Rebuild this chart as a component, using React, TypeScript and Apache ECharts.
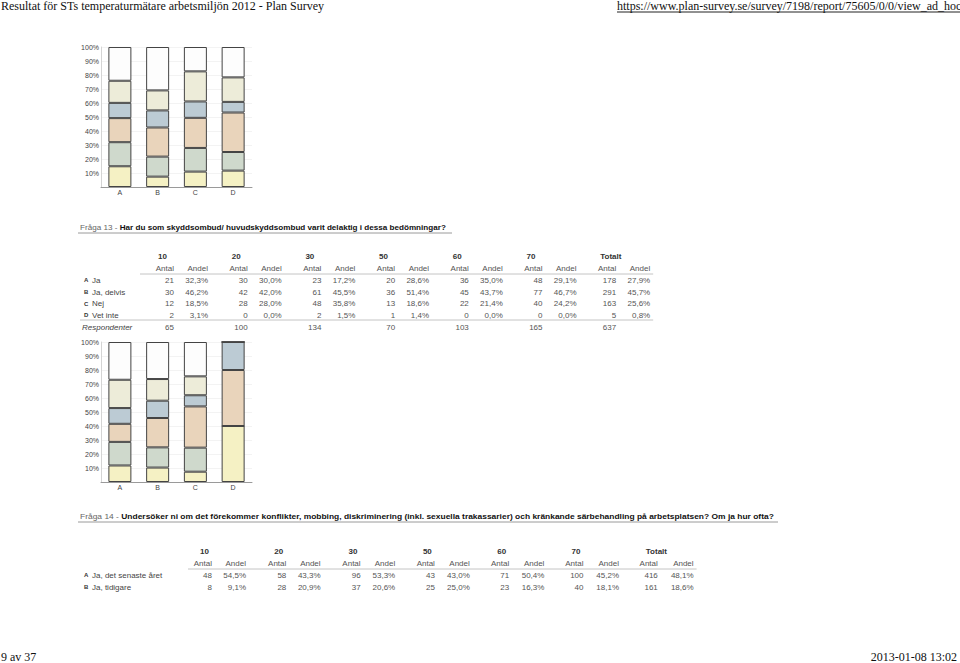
import React, { useEffect, useRef } from "react";
import * as echarts from "echarts";

// ---------- data ----------
const pageTitle = "Resultat för STs temperaturmätare arbetsmiljön 2012 - Plan Survey";
const pageUrl = "https://www.plan-survey.se/survey/7198/report/75605/0/0/view_ad_hoc";
const pageFooterLeft = "9 av 37";
const pageFooterRight = "2013-01-08 13:02";

const groups = ["10", "20", "30", "50", "60", "70", "Totalt"];
const categories = ["A", "B", "C", "D"];
const yTicks = [10, 20, 30, 40, 50, 60, 70, 80, 90, 100];

// Chart for the previous question (shares in % per group, for categories A-D)
const prevG10 = [14.8, 7.4, 11.0, 11.7];
const prevG20 = [17.2, 14.3, 16.9, 13.3];
const prevG30 = [17.2, 20.8, 21.5, 28.2];
const prevG50 = [10.9, 12.2, 11.7, 7.6];
const prevG60 = [15.8, 14.3, 21.5, 17.5];
const prevG70 = [24.1, 31.0, 17.4, 21.7];

// Question 13
const q13Prefix = "Fråga 13 - ";
const q13Text = "Har du som skyddsombud/ huvudskyddsombud varit delaktig i dessa bedömningar?";
const q13Labels = ["Ja", "Ja, delvis", "Nej", "Vet inte"];
const q13JaAntal = [21, 30, 23, 20, 36, 48, 178];
const q13JaAndel = ["32,3%", "30,0%", "17,2%", "28,6%", "35,0%", "29,1%", "27,9%"];
const q13DelvisAntal = [30, 42, 61, 36, 45, 77, 291];
const q13DelvisAndel = ["46,2%", "42,0%", "45,5%", "51,4%", "43,7%", "46,7%", "45,7%"];
const q13NejAntal = [12, 28, 48, 13, 22, 40, 163];
const q13NejAndel = ["18,5%", "28,0%", "35,8%", "18,6%", "21,4%", "24,2%", "25,6%"];
const q13VetAntal = [2, 0, 2, 1, 0, 0, 5];
const q13VetAndel = ["3,1%", "0,0%", "1,5%", "1,4%", "0,0%", "0,0%", "0,8%"];
const q13Respondenter = [65, 100, 134, 70, 103, 165, 637];

// Question 14
const q14Prefix = "Fråga 14 - ";
const q14Text =
  "Undersöker ni om det förekommer konflikter, mobbing, diskriminering (inkl. sexuella trakassarier) och kränkande särbehandling på arbetsplatsen? Om ja hur ofta?";
const q14Labels = ["Ja, det senaste året", "Ja, tidigare"];
const q14SenasteAntal = [48, 58, 96, 43, 71, 100, 416];
const q14SenasteAndel = ["54,5%", "43,3%", "53,3%", "43,0%", "50,4%", "45,2%", "48,1%"];
const q14TidigareAntal = [8, 28, 37, 25, 23, 40, 161];
const q14TidigareAndel = ["9,1%", "20,9%", "20,6%", "25,0%", "16,3%", "18,1%", "18,6%"];

// ---------- styling ----------
const segColors = ["#f5f1c4", "#cfd9cc", "#e9d4bb", "#bccbd4", "#edecd9", "#fdfdfd"];
const SANS = "'Liberation Sans', Arial, sans-serif";
const SERIF = "'Liberation Serif', 'Times New Roman', serif";

export default function App() {
  const ref = useRef<HTMLDivElement>(null);

  useEffect(() => {
    if (!ref.current) return;
    const chart = echarts.init(ref.current, null, { renderer: "svg" });

    const prevSeries = [prevG10, prevG20, prevG30, prevG50, prevG60, prevG70];
    const q13Rows = [q13JaAntal, q13DelvisAntal, q13NejAntal, q13VetAntal];
    const q13Series = groups.slice(0, 6).map((_, j) =>
      q13Rows.map((row) => (row[6] ? (row[j] / row[6]) * 100 : 0))
    );

    const grids = [
      { left: 101, top: 47, width: 151, height: 140 },
      { left: 101, top: 342, width: 151, height: 140 },
    ];

    const xAxes = grids.map((_, i) => ({
      type: "category",
      gridIndex: i,
      data: categories,
      axisLine: { show: true, lineStyle: { color: "#9a9a9a", width: 1 } },
      axisTick: { show: false },
      axisLabel: { fontSize: 7, color: "#444", fontFamily: SANS, margin: 2 },
    }));
    const yAxes = grids.map((_, i) => ({
      type: "value",
      gridIndex: i,
      min: 0,
      max: 100,
      interval: 10,
      axisLine: { show: true, lineStyle: { color: "#d4d4d4", width: 1 } },
      axisTick: { show: false },
      splitLine: { show: true, lineStyle: { color: "#f3f3f3", width: 1 } },
      axisLabel: {
        fontSize: 7,
        color: "#444",
        fontFamily: SANS,
        margin: 2,
        formatter: (v: number) => (yTicks.includes(v) ? v + "%" : ""),
      },
    }));

    const mkSeries = (data: number[][], idx: number) =>
      data.map((vals, j) => ({
        type: "bar",
        name: groups[j] + "_" + idx,
        stack: "s" + idx,
        xAxisIndex: idx,
        yAxisIndex: idx,
        barWidth: 23,
        data: vals,
        itemStyle: { color: segColors[j], borderColor: "#444", borderWidth: 1 },
        emphasis: { disabled: true },
      }));

    const series = [...mkSeries(prevSeries, 0), ...mkSeries(q13Series, 1)];

    // ---------- graphic texts ----------
    const g: any[] = [];
    const txt = (
      text: string,
      x: number,
      y: number,
      opts: { align?: string; size?: number; color?: string; weight?: string; italic?: boolean; family?: string } = {}
    ) => {
      g.push({
        type: "text",
        x,
        y,
        silent: true,
        style: {
          text,
          fill: opts.color || "#555",
          font: `${opts.italic ? "italic " : ""}${opts.weight || "normal"} ${opts.size || 8}px ${opts.family || SANS}`,
          align: opts.align || "left",
          verticalAlign: "middle",
        },
      });
    };
    const hline = (x1: number, x2: number, y: number, color = "#bdbdbd", w = 1) => {
      g.push({
        type: "line",
        silent: true,
        shape: { x1, y1: y, x2, y2: y },
        style: { stroke: color, lineWidth: w },
      });
    };

    // page header / footer
    txt(pageTitle, 1, 6, { size: 12, color: "#111", family: SERIF });
    txt(pageUrl, 617, 6, { size: 12, color: "#111", family: SERIF });
    hline(617, 960, 12, "#222", 1);
    txt(pageFooterLeft, 1, 657, { size: 12, color: "#111", family: SERIF });
    txt(pageFooterRight, 957, 657, { size: 12, color: "#111", family: SERIF, align: "right" });

    const question = (prefix: string, text: string, y: number, lineEnd: number, sx: number) => {
      g.push({
        type: "text",
        x: 80,
        y,
        scaleX: sx,
        silent: true,
        style: {
          text: `{a|${prefix}}{b|${text}}`,
          verticalAlign: "middle",
          rich: {
            a: { fill: "#666", font: `normal 8px ${SANS}` },
            b: { fill: "#111", font: `bold 8px ${SANS}` },
          },
        },
      });
      hline(78, lineEnd, y + 5, "#9a9a9a", 1);
    };

    const table = (
      yHead: number,
      antalR: (i: number) => number,
      andelR: (i: number) => number,
      headOff: number,
      rows: { label: string; badge: string; antal: number[]; andel: string[] }[],
      rowYs: number[],
      headLineX: number,
      resp: number[] | null,
      respY: number
    ) => {
      groups.forEach((gName, i) => {
        txt(gName, antalR(i) - headOff, yHead, { weight: "bold", color: "#333" });
        txt("Antal", antalR(i), yHead + 12, { align: "right" });
        txt("Andel", andelR(i), yHead + 12, { align: "right" });
      });
      hline(headLineX, andelR(6) + 3, yHead + 18, "#c4c4c4", 1);
      rows.forEach((r, k) => {
        const y = rowYs[k];
        txt(r.badge, 84, y, { size: 6, weight: "bold", color: "#333" });
        txt(r.label, 92, y, { color: "#444" });
        r.antal.forEach((v, i) => {
          txt(String(v), antalR(i), y, { align: "right" });
          txt(r.andel[i], andelR(i), y, { align: "right" });
        });
      });
      if (resp) {
        hline(80, andelR(6) + 3, respY - 7, "#c4c4c4", 1);
        txt("Respondenter", 82, respY, { italic: true, color: "#444" });
        resp.forEach((v, i) => txt(String(v), antalR(i), respY, { align: "right" }));
      }
    };

    // Q13
    question(q13Prefix, q13Text, 228, 452, 1.015);
    table(
      256,
      (i) => 174 + 73.7 * i,
      (i) => 208 + 73.7 * i,
      16,
      [
        { label: q13Labels[0], badge: "A", antal: q13JaAntal, andel: q13JaAndel },
        { label: q13Labels[1], badge: "B", antal: q13DelvisAntal, andel: q13DelvisAndel },
        { label: q13Labels[2], badge: "C", antal: q13NejAntal, andel: q13NejAndel },
        { label: q13Labels[3], badge: "D", antal: q13VetAntal, andel: q13VetAndel },
      ],
      [280, 292, 303.5, 315],
      140,
      q13Respondenter,
      327
    );

    // Q14
    question(q14Prefix, q14Text, 517, 778, 1.055);
    table(
      551,
      (i) => 212 + 74.3 * i,
      (i) => 246 + 74.6 * i,
      12,
      [
        { label: q14Labels[0], badge: "A", antal: q14SenasteAntal, andel: q14SenasteAndel },
        { label: q14Labels[1], badge: "B", antal: q14TidigareAntal, andel: q14TidigareAndel },
      ],
      [575, 587],
      188,
      null,
      0
    );

    chart.setOption({
      animation: false,
      backgroundColor: "#ffffff",
      grid: grids,
      xAxis: xAxes,
      yAxis: yAxes,
      series,
      graphic: g,
    });

    return () => chart.dispose();
  }, []);

  return (
    <div
      ref={ref}
      style={{ position: "fixed", left: 0, top: 0, width: 960, height: 663, background: "#fff" }}
    />
  );
}
